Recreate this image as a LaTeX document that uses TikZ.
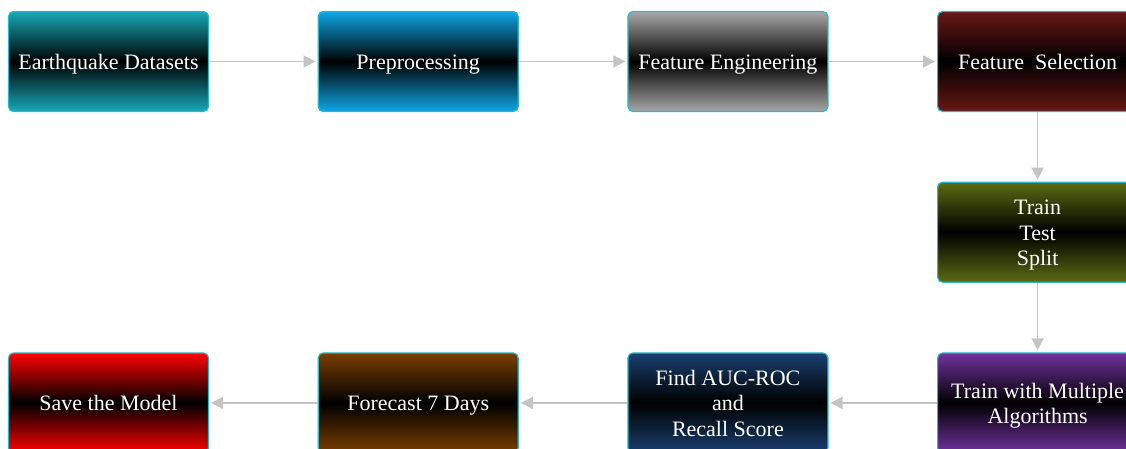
\documentclass[tikz,border=0pt]{standalone}
\usepackage{fontspec}
\setmainfont{Liberation Serif}
\usetikzlibrary{positioning,arrows.meta}
\definecolor{cEq}{HTML}{18A8B8}
\definecolor{cPre}{HTML}{0FA6E6}
\definecolor{cFeng}{HTML}{A8A8A8}
\definecolor{cFsel}{HTML}{6B1616}
\definecolor{cSplit}{HTML}{5C6B12}
\definecolor{cTrain}{HTML}{7232A0}
\definecolor{cAuc}{HTML}{1A4070}
\definecolor{cFc}{HTML}{7A3F00}
\definecolor{cSave}{HTML}{FF0000}
\definecolor{bord}{HTML}{2CB8C8}
\definecolor{lgray}{HTML}{C4C4C4}
\tikzstyle{aS}=[every edge/.style={draw=lgray,line width=1.6pt,-{Triangle[length=12pt,width=12pt]},shorten >=2pt}]
\tikzstyle{Astage}=[draw=bord,line width=1.2pt,rounded corners=5pt,minimum width=200pt,minimum height=100pt,
                    text=white,align=center,inner sep=2pt,font=\fontsize{22}{25.5}\selectfont,
                    node distance=69.5pt and 108.5pt]
% struts keep the capitals centred in every box
\newcommand{\mkstage}[4]{\node[Astage,top color=#1,bottom color=#1,middle color=black,#2] (#3)
    {\rule{0pt}{22pt}#4\rule[-6pt]{0pt}{6pt}};}

\begin{document}
\begin{tikzpicture}[x=1pt,y=-1pt,aS]
  \useasboundingbox (0,0) rectangle (1126,449);
  \clip (0,0) rectangle (1126,449);

	\mkstage{cEq}{at={(108.5,61.5)}}{eq}{Earthquake Datasets}
	\mkstage{cPre}{right=of eq}{pre}{Preprocessing}
	\mkstage{cFeng}{right=of pre}{feng}{Feature Engineering}
	\mkstage{cFsel}{right=of feng}{fsel}{Feature\ \ Selection}
	\mkstage{cSplit}{below=of fsel}{split}{Train\\Test\\Split}
	\mkstage{cTrain}{below=of split}{train}{Train with Multiple\\Algorithms}
	\mkstage{cAuc}{left=of train}{auc}{Find AUC-ROC\\and\\Recall Score}
	\mkstage{cFc}{left=of auc}{fc}{Forecast 7 Days}
	\mkstage{cSave}{left=of fc}{save}{Save the Model}

	\path (eq) edge (pre)
	      (pre) edge (feng)
	      (feng) edge (fsel)
	      (fsel) edge (split)
	      (split) edge (train)
	      (train) edge (auc)
	      (auc) edge (fc)
	      (fc) edge (save);
\end{tikzpicture}
\end{document}
